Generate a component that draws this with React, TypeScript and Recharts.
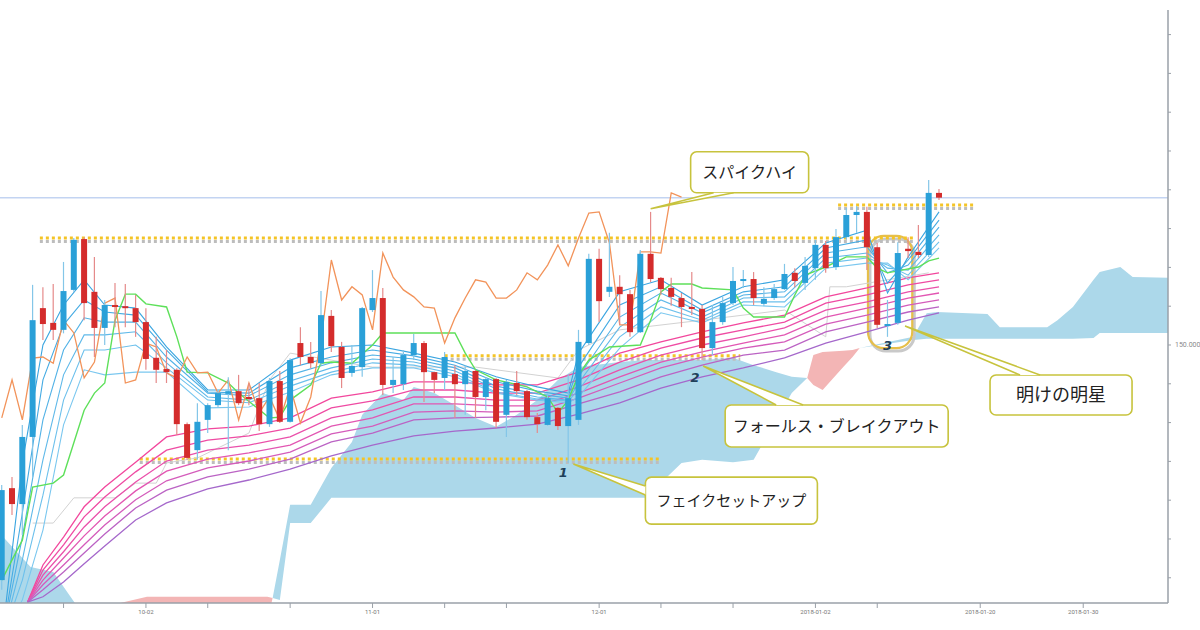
import {
  Area,
  Bar,
  ComposedChart,
  Line,
  ReferenceArea,
  ReferenceDot,
  ReferenceLine,
  XAxis,
  YAxis,
} from "recharts";

// daily candles, index 0 = the cut candle at the left edge
const candleOpen = [
  143.94, 146.31, 145.9, 147.63, 150.95, 150.57, 150.39, 151.42, 152.73, 151.37,
  150.44, 151.03, 151.0, 150.95, 150.59, 149.67, 149.38, 149.36, 147.96, 147.29,
  148.07, 148.45, 148.74, 148.81, 148.66, 148.63, 147.96, 149.07, 148.02, 150.05,
  149.69, 149.53, 150.75, 149.95, 149.28, 149.43, 150.9, 151.21, 148.97, 148.99,
  149.74, 150.05, 149.3, 149.15, 149.25, 148.99, 149.33, 148.66, 149.12, 148.2,
  149.02, 148.81, 148.14, 147.94, 148.38, 147.91, 148.07, 150.05, 152.22, 151.37,
  151.5, 151.31, 150.33, 152.35, 151.73, 151.47, 151.21, 150.98, 150.93, 149.92,
  150.59, 151.08, 151.65, 151.7, 151.06, 151.21, 151.44, 151.86, 151.6, 151.98,
  152.58, 152.01, 152.78, 153.35, 153.43, 152.52, 150.49, 150.57, 152.48, 152.4,
  152.32, 153.92,
];
const candleClose = [
  146.26, 145.9, 147.63, 150.64, 150.54, 150.39, 151.39, 152.71, 151.08, 150.44,
  151.03, 150.98, 150.98, 150.59, 149.64, 149.36, 149.3, 147.96, 147.09, 148.02,
  148.45, 148.76, 148.81, 148.5, 148.61, 147.96, 149.07, 148.02, 149.61, 149.69,
  149.53, 150.77, 149.97, 149.15, 149.46, 150.95, 151.21, 148.97, 149.1, 149.74,
  150.05, 149.3, 149.1, 149.69, 148.99, 149.33, 148.66, 149.12, 148.02, 149.05,
  148.81, 148.14, 147.96, 148.63, 147.91, 148.63, 150.08, 152.22, 151.13, 151.5,
  151.31, 150.33, 152.35, 151.7, 151.44, 151.24, 150.98, 150.93, 149.92, 150.59,
  151.08, 151.65, 151.7, 151.21, 151.19, 151.44, 151.83, 151.65, 152.04, 152.58,
  151.98, 152.78, 153.35, 153.43, 152.52, 150.52, 150.54, 152.37, 152.42, 152.32,
  153.92, 153.797,
];
const candleHigh = [
  146.39, 146.6, 147.94, 151.55, 151.49, 151.57, 152.14, 152.76, 152.78, 152.27,
  151.16, 151.6, 151.57, 151.29, 150.95, 150.21, 149.87, 149.4, 148.0, 148.5,
  148.5, 148.84, 149.17, 149.23, 149.02, 149.02, 149.15, 149.33, 149.66, 150.46,
  150.08, 151.39, 150.9, 150.08, 150.0, 150.98, 151.93, 151.47, 149.69, 149.87,
  150.28, 150.1, 149.31, 149.82, 149.48, 149.48, 149.36, 149.17, 149.15, 149.1,
  149.33, 148.84, 148.25, 148.76, 148.4, 149.23, 150.39, 152.35, 152.48, 152.89,
  151.8, 151.42, 152.45, 153.43, 151.75, 151.73, 151.34, 151.88, 151.03, 151.03,
  151.24, 152.01, 151.93, 151.88, 151.49, 151.57, 152.09, 151.98, 152.27, 152.71,
  152.68, 152.99, 153.53, 153.58, 153.56, 152.63, 151.16, 152.65, 152.78, 153.09,
  154.25, 154.02,
];
const candleLow = [
  143.69, 145.62, 145.1, 146.6, 150.13, 150.13, 150.3, 151.37, 150.64, 149.69,
  150.0, 150.46, 150.46, 150.21, 149.36, 149.02, 149.02, 147.68, 147.04, 147.04,
  147.73, 148.4, 147.29, 148.45, 148.45, 147.78, 147.89, 147.99, 148.0, 149.48,
  149.4, 149.48, 149.82, 148.89, 149.18, 149.18, 150.85, 148.71, 148.76, 148.84,
  149.61, 148.53, 148.76, 148.84, 148.12, 148.2, 148.12, 148.32, 147.86, 147.63,
  148.71, 148.07, 147.73, 147.92, 147.81, 146.96, 147.94, 150.0, 150.59, 151.24,
  150.52, 150.21, 150.31, 151.62, 151.29, 151.01, 150.46, 150.77, 149.61, 149.74,
  150.52, 151.03, 151.47, 151.03, 151.01, 151.16, 151.42, 151.49, 151.42, 151.68,
  151.86, 151.93, 152.71, 152.89, 151.93, 150.44, 150.21, 150.52, 152.24, 152.24,
  152.27, 153.74,
];
const lastPrice = 153.797;

// GMMA short group
const shortIdx = [0, 2, 4, 6, 8, 10, 13, 16, 20, 24, 28, 32, 36, 40, 44, 48, 52, 55, 56, 60, 64, 68, 72, 76, 80, 84, 86, 88, 91];
const ema3 = [142.4, 146.96, 150.0, 151.03, 151.68, 151.03, 150.95, 149.95, 148.84, 148.84, 149.61, 149.95, 150.0, 149.79, 149.56, 149.18, 148.92, 148.76, 149.79, 151.37, 151.68, 151.03, 151.5, 151.68, 152.63, 152.96, 151.34, 152.27, 153.43];
const ema5 = [142.4, 145.67, 149.1, 150.52, 151.16, 150.85, 150.77, 149.87, 148.79, 148.76, 149.41, 149.69, 149.87, 149.72, 149.48, 149.05, 148.81, 148.69, 149.43, 151.03, 151.5, 150.9, 151.37, 151.5, 152.5, 152.71, 151.6, 152.19, 153.22];
const ema8 = [142.4, 145.05, 148.07, 149.87, 150.7, 150.59, 150.59, 149.69, 148.76, 148.69, 149.23, 149.54, 149.74, 149.64, 149.41, 148.94, 148.74, 148.63, 149.18, 150.72, 151.34, 150.83, 151.29, 151.37, 152.37, 152.53, 151.86, 152.06, 153.04];
const ema10 = [142.4, 144.46, 147.04, 149.23, 150.26, 150.26, 150.34, 149.54, 148.66, 148.58, 149.07, 149.41, 149.64, 149.56, 149.33, 148.87, 148.66, 148.58, 149.02, 150.46, 151.16, 150.72, 151.21, 151.24, 152.24, 152.37, 151.98, 151.93, 152.84];
const ema12 = [142.4, 143.94, 146.13, 148.58, 149.87, 149.87, 150.0, 149.41, 148.58, 148.51, 148.94, 149.3, 149.54, 149.48, 149.25, 148.79, 148.61, 148.56, 148.84, 150.21, 150.98, 150.64, 151.11, 151.11, 152.11, 152.24, 152.06, 151.8, 152.66];
const ema15 = [142.4, 143.43, 145.23, 147.94, 149.36, 149.23, 149.3, 149.3, 148.38, 148.4, 148.79, 149.23, 149.41, 149.41, 149.18, 148.76, 148.58, 148.51, 148.66, 149.92, 150.83, 150.57, 151.03, 150.98, 151.98, 152.11, 152.11, 151.68, 152.5];

// GMMA long group
const longIdx = [2.5, 4, 6, 8, 10, 13, 16, 20, 24, 28, 32, 36, 40, 44, 48, 52, 56, 60, 64, 68, 72, 76, 80, 84, 88, 91];
const ema30 = [143.37, 144.33, 145.05, 145.83, 146.34, 146.98, 147.63, 147.84, 147.91, 148.12, 148.63, 148.79, 149.05, 149.05, 148.97, 148.97, 149.3, 149.79, 150.08, 150.34, 150.57, 150.77, 151.24, 151.47, 151.73, 151.86];
const ema35 = [143.37, 144.2, 144.85, 145.57, 146.08, 146.73, 147.29, 147.55, 147.66, 147.86, 148.38, 148.56, 148.84, 148.84, 148.76, 148.76, 149.1, 149.56, 149.92, 150.18, 150.39, 150.59, 151.08, 151.29, 151.55, 151.68];
const ema40 = [143.37, 144.07, 144.67, 145.31, 145.83, 146.47, 147.01, 147.29, 147.42, 147.63, 148.12, 148.33, 148.66, 148.66, 148.58, 148.58, 148.92, 149.36, 149.74, 150.0, 150.21, 150.44, 150.9, 151.11, 151.37, 151.5];
const ema45 = [143.37, 143.94, 144.51, 145.08, 145.59, 146.24, 146.75, 147.06, 147.22, 147.42, 147.91, 148.12, 148.48, 148.48, 148.43, 148.43, 148.76, 149.18, 149.56, 149.82, 150.05, 150.26, 150.72, 150.95, 151.21, 151.34];
const ema50 = [143.37, 143.82, 144.33, 144.85, 145.36, 146.01, 146.5, 146.83, 147.01, 147.24, 147.71, 147.91, 148.27, 148.3, 148.27, 148.3, 148.63, 149.02, 149.41, 149.69, 149.92, 150.08, 150.54, 150.77, 151.03, 151.16];
const ema55 = [143.37, 143.69, 144.15, 144.64, 145.13, 145.8, 146.26, 146.6, 146.8, 147.06, 147.5, 147.73, 148.07, 148.12, 148.14, 148.17, 148.48, 148.79, 149.18, 149.48, 149.74, 149.87, 150.34, 150.59, 150.85, 150.98];
const ema60 = [143.37, 143.51, 143.89, 144.36, 144.82, 145.49, 145.93, 146.29, 146.52, 146.8, 147.14, 147.42, 147.66, 147.78, 147.86, 147.96, 148.22, 148.51, 148.89, 149.18, 149.41, 149.67, 150.05, 150.34, 150.64, 150.83];

// ichimoku
const chikou = [
  148.12, 149.1, 148.07, 149.66, 149.69, 149.53, 150.64, 150.31, 149.15, 149.56,
  151.08, 151.21, 149.02, 149.1, 150.05, 149.95, 149.28, 149.15, 149.69, 149.28,
  149.3, 148.76, 149.1, 148.07, 149.02, 148.25, 148.66, 148.07, 148.92, 147.99,
  148.66, 150.13, 152.19, 151.16, 151.5, 151.29, 150.39, 152.37, 151.75, 151.42,
  151.24, 150.98, 150.95, 150.05, 150.7, 151.21, 151.68, 151.62, 151.21, 151.21,
  151.42, 151.86, 151.68, 152.06, 152.58, 152.04, 152.76, 153.4, 153.43, 152.63,
  150.52, 150.52, 152.4, 152.4, 152.37, 153.92, 153.81,
];
const kijunIdx = [0, 1, 2, 3, 5, 6, 8, 9, 10, 11, 12, 13, 14, 16, 17, 18, 20, 22, 23, 26, 27, 28, 30, 31, 32, 34, 36, 37, 44, 45, 46, 48, 51, 53, 54, 55, 56, 57, 59, 62, 63, 64, 65, 67, 68, 71, 72, 73, 76, 77, 78, 80, 81, 82, 84, 85, 86, 87, 89, 90, 91];
const kijun = [143.94, 144.46, 144.97, 146.34, 146.44, 146.65, 148.32, 148.76, 149.02, 150.64, 151.31, 151.31, 151.06, 150.98, 150.21, 149.3, 149.28, 149.02, 148.76, 148.12, 148.14, 148.58, 148.97, 149.53, 149.56, 149.53, 150.0, 150.31, 150.31, 149.79, 149.36, 149.1, 148.92, 148.66, 148.25, 148.58, 149.23, 149.61, 149.95, 150.0, 150.64, 151.37, 151.57, 151.57, 151.47, 151.42, 150.95, 150.72, 150.72, 151.29, 151.8, 152.01, 152.14, 152.27, 152.27, 151.98, 151.86, 151.91, 152.01, 152.17, 152.24];
const grayIdx = [3, 5, 7, 11, 13, 15, 16, 19, 24, 26, 28, 32, 36, 46, 54, 56, 60, 68, 76, 80, 80.4, 82, 90];
const grayLine = [145.41, 145.41, 146.06, 146.06, 146.44, 146.44, 146.96, 147.09, 147.73, 149.1, 149.79, 149.61, 149.43, 149.43, 149.15, 149.87, 150.39, 150.64, 150.9, 150.21, 151.5, 151.5, 151.86];
const cloudIdx = [-0.2, 2.8, 5, 7.1, 9.5, 11.5, 14.1, 25.8, 26.3, 27, 28, 30, 32, 34, 35, 37, 39, 40, 42, 44, 46, 48, 50, 52, 54, 56, 60, 62.5, 66, 68, 71, 73, 75.2, 76.7, 78.2, 78.8, 79.7, 81.7, 82.6, 83.3, 88.5, 89.8, 90.8, 95.7, 96.9, 101.5, 102.5, 104, 106, 106.6, 108.6, 109.8, 113.3];
const spanA = [145.15, 144.28, 144.15, 143.35, 142.4, 142.27, 142.27, 142.91, 143.48, 144.46, 145.88, 145.88, 146.83, 147.5, 148.2, 148.76, 148.58, 148.92, 148.76, 148.45, 148.12, 147.89, 148.2, 148.58, 149.1, 149.43, 149.56, 149.61, 149.61, 149.61, 149.67, 149.48, 149.3, 149.18, 149.15, 148.97, 148.84, 149.43, 149.69, 149.92, 150.21, 150.82, 150.85, 150.8, 150.46, 150.46, 150.64, 150.98, 151.68, 151.88, 152.01, 151.75, 151.73];
const spanB = [142.14, 142.14, 142.14, 142.14, 142.78, 143.35, 143.51, 143.51, 143.48, 143.43, 145.41, 145.41, 146.06, 146.06, 146.06, 146.06, 146.06, 146.06, 146.06, 146.06, 146.06, 146.06, 146.06, 146.06, 146.06, 146.06, 146.06, 146.06, 146.96, 147.04, 146.98, 147.04, 148.07, 148.76, 149.15, 149.74, 149.82, 149.85, 149.87, 149.92, 150.13, 150.16, 150.16, 150.16, 150.16, 150.16, 150.16, 150.16, 150.18, 150.31, 150.31, 150.31, 150.31];

// hand drawn levels
const levelPrice = [152.76, 149.72, 147.06, 153.61];
const levelFrom = [3.7, 43.0, 13.4, 81.2];
const levelTo = [88.7, 71.7, 63.9, 94.5];

// callouts: tip in data coords
const calloutText = ["スパイクハイ", "フォールス・ブレイクアウト", "フェイクセットアップ", "明けの明星"];
const calloutAt = [63.0, 68.1, 55.5, 87.7];
const calloutPrice = [153.51, 149.46, 146.93, 150.49];
const markText = ["1", "2", "3"];
const markAt = [55, 68, 86];

const dateTicks = [6, 14, 20, 28, 36, 43, 49, 58, 64, 71, 79, 85, 95, 105];
const dateTickLabels = ["", "10-02", "", "", "11-01", "", "", "12-01", "", "", "2018-01-02", "", "2018-01-20", "2018-01-30"];
const priceTicks = [144, 145, 146, 147, 148, 149, 150, 151, 152, 153, lastPrice, 154, 155, 156, 157, 158];

// layout only (pixels relative to the tip)
const calloutLayout = [
  { box: [40, -57, 118, 41], base: [[63, -16], [83, -16]], size: 16 },
  { box: [22, 39, 223, 42], base: [[73, 39], [100, 39]], size: 16 },
  { box: [72, 13, 172, 47], base: [[72, 22], [72, 31]], size: 15 },
  { box: [85, 49, 142, 40], base: [[115, 49], [135, 49]], size: 18 },
];
const markOffset = [[-5, 14], [-7, 22], [0, 13]];

const candles = candleOpen.map((o, i) => ({
  i,
  o,
  c: candleClose[i],
  h: candleHigh[i],
  l: candleLow[i],
  range: [candleLow[i], candleHigh[i]],
}));
const series = (idx: number[], vals: number[]) => idx.map((i, k) => ({ i, v: vals[k] }));
const shortLines = [ema3, ema5, ema8, ema10, ema12, ema15];
const shortColors = ["#3aa5e0", "#45abe3", "#52b2e6", "#5fb9e9", "#6cc0ec", "#7ac7ef"];
const longLines = [ema30, ema35, ema40, ema45, ema50, ema55, ema60];
const longColors = ["#f2479d", "#ef4ba3", "#ea50aa", "#e256b2", "#d45cbb", "#bb63c4", "#a568cb"];
const cloud = cloudIdx.map((i, k) => ({ i, a: spanA[k], b: spanB[k] }));
const chikouData = chikou.map((v, i) => ({ i, v }));

const OLIVE = "#c7c33d";
const BODY = 6;

const Candle = (props: any) => {
  const { x, y, width, height, payload } = props;
  const { o, c, h, l } = payload;
  const top = Math.min(y, y + height);
  const hh = Math.abs(height);
  const ppu = h > l ? hh / (h - l) : 0;
  const b1 = top + (h - Math.max(o, c)) * ppu;
  const b2 = top + (h - Math.min(o, c)) * ppu;
  const up = c >= o;
  const cx = x + (width || 0) / 2;
  return (
    <g>
      <line x1={cx} x2={cx} y1={top} y2={top + hh} stroke={up ? "#84c6e8" : "#e58a8a"} strokeWidth={1.2} />
      <rect x={cx - BODY / 2} y={b1} width={BODY} height={Math.max(b2 - b1, 2)} fill={up ? "#2aa0d8" : "#d42c2c"} />
    </g>
  );
};

const makeCallout = (k: number) => (props: any) => {
  const { cx, cy } = props;
  const { box, base, size } = calloutLayout[k];
  const [bx, by, bw, bh] = box;
  const p1 = [cx + base[0][0], cy + base[0][1]];
  const p2 = [cx + base[1][0], cy + base[1][1]];
  return (
    <g>
      <rect x={cx + bx} y={cy + by} width={bw} height={bh} rx={6} fill="#fff" stroke={OLIVE} strokeWidth={1.6} />
      <polygon points={`${p1[0]},${p1[1]} ${cx},${cy} ${p2[0]},${p2[1]}`} fill="#fff" stroke="none" />
      <path d={`M${p1[0]},${p1[1]} L${cx},${cy} L${p2[0]},${p2[1]}`} fill="none" stroke={OLIVE} strokeWidth={1.6} />
      <text
        x={cx + bx + bw / 2}
        y={cy + by + bh / 2 + size * 0.36}
        textAnchor="middle"
        fontSize={size}
        fontFamily="'Noto Sans CJK JP', sans-serif"
        fill="#222"
      >
        {calloutText[k]}
      </text>
    </g>
  );
};

const makeMark = (k: number) => (props: any) => {
  const { cx, cy } = props;
  return (
    <text
      x={cx + markOffset[k][0]}
      y={cy + markOffset[k][1]}
      textAnchor="middle"
      fontSize={13}
      fontStyle="italic"
      fontWeight="bold"
      fontFamily="'DejaVu Sans', sans-serif"
      fill="#20405a"
    >
      {markText[k]}
    </text>
  );
};

const Rounded = (props: any) => {
  const { x, y, width, height } = props;
  return (
    <g>
      <rect x={x + 2} y={y + 3} width={width} height={height} rx={16} fill="none" stroke="#c9c9c9" strokeWidth={3} />
      <rect x={x} y={y} width={width} height={height} rx={16} fill="none" stroke="#e6bf4a" strokeWidth={2.2} />
    </g>
  );
};

const PriceTick = (props: any) => {
  const { x, y, payload } = props;
  const v = payload.value;
  if (v === lastPrice) {
    return (
      <g>
        <rect x={x - 1} y={y - 6} width={30} height={12} rx={2} fill="#cde0f8" />
        <text x={x + 14} y={y + 2.5} textAnchor="middle" fontSize={6.5} fill="#3d5f8c" fontFamily="Roboto, sans-serif">
          {v.toFixed(3)}
        </text>
      </g>
    );
  }
  if (v === 150) {
    return (
      <text x={x + 2} y={y + 2.5} fontSize={7} fill="#8a8a8a" fontFamily="Roboto, sans-serif">
        {v.toFixed(3)}
      </text>
    );
  }
  return <g />;
};

export default function App() {
  return (
    <div style={{ position: "absolute", left: 0, top: 0, width: 1200, height: 630, background: "#fff" }}>
      <ComposedChart width={1200} height={630} data={candles} margin={{ top: 10, right: 0, bottom: 0, left: 0 }}>
        <XAxis
          dataKey="i"
          type="number"
          domain={[-0.17, 113.23]}
          allowDataOverflow
          ticks={dateTicks}
          tickFormatter={(v) => dateTickLabels[dateTicks.indexOf(v)] ?? ""}
          height={27}
          tick={{ fontSize: 6, fill: "#777", fontFamily: "Roboto, sans-serif" }}
          tickLine={{ stroke: "#9aa0a8" }}
          tickSize={5}
          axisLine={{ stroke: "#9aa0a8", strokeWidth: 1.5 }}
        />
        <YAxis
          orientation="right"
          type="number"
          domain={[143.35, 158.634]}
          allowDataOverflow
          ticks={priceTicks}
          width={32}
          tick={<PriceTick />}
          tickSize={3}
          tickLine={{ stroke: "#9aa0a8" }}
          axisLine={{ stroke: "#9aa0a8", strokeWidth: 1.5 }}
        />
        <Area
          data={cloud}
          dataKey={(d: any) => (d.a >= d.b ? [d.b, d.a] : [d.a, d.a])}
          type="linear"
          stroke="none"
          fill="#acd8ea"
          fillOpacity={1}
          isAnimationActive={false}
        />
        <Area
          data={cloud}
          dataKey={(d: any) => (d.b > d.a ? [d.a, d.b] : [d.b, d.b])}
          type="linear"
          stroke="none"
          fill="#f3b5b5"
          fillOpacity={1}
          isAnimationActive={false}
        />
        <ReferenceLine y={lastPrice} stroke="#c3d4f2" strokeWidth={1.5} />
        {levelPrice.map((p, k) => (
          <ReferenceLine
            key={`ls${k}`}
            segment={[{ x: levelFrom[k], y: p - 0.09 }, { x: levelTo[k], y: p - 0.09 }]}
            stroke="#bdbdbd"
            strokeWidth={3}
            strokeDasharray="3 3"
          />
        ))}
        {levelPrice.map((p, k) => (
          <ReferenceLine
            key={`ly${k}`}
            segment={[{ x: levelFrom[k], y: p }, { x: levelTo[k], y: p }]}
            stroke="#f4c426"
            strokeWidth={3}
            strokeDasharray="3 3"
          />
        ))}
        <Line data={series(grayIdx, grayLine)} dataKey="v" dot={false} stroke="#d2d2d2" strokeWidth={1} isAnimationActive={false} />
        {longLines.map((vals, k) => (
          <Line
            key={`long${k}`}
            data={series(longIdx, vals)}
            dataKey="v"
            dot={false}
            stroke={longColors[k]}
            strokeWidth={1.3}
            isAnimationActive={false}
          />
        ))}
        {shortLines.map((vals, k) => (
          <Line
            key={`short${k}`}
            data={series(shortIdx, vals)}
            dataKey="v"
            dot={false}
            stroke={shortColors[k]}
            strokeWidth={1.1}
            isAnimationActive={false}
          />
        ))}
        <Line data={series(kijunIdx, kijun)} dataKey="v" dot={false} stroke="#5ee05a" strokeWidth={1.4} isAnimationActive={false} />
        <Line data={chikouData} dataKey="v" dot={false} stroke="#f2935a" strokeWidth={1.3} isAnimationActive={false} />
        <Bar dataKey="range" barSize={6} shape={<Candle />} isAnimationActive={false} zIndex={450} />
        <ReferenceArea x1={84.1} x2={88.4} y1={149.92} y2={152.81} shape={<Rounded />} />
        {markAt.map((i, k) => (
          <ReferenceDot key={`m${k}`} x={i} y={candleLow[i]} shape={makeMark(k)} />
        ))}
        {calloutText.map((t, k) => (
          <ReferenceDot key={`c${k}`} x={calloutAt[k]} y={calloutPrice[k]} shape={makeCallout(k)} />
        ))}
      </ComposedChart>
    </div>
  );
}
